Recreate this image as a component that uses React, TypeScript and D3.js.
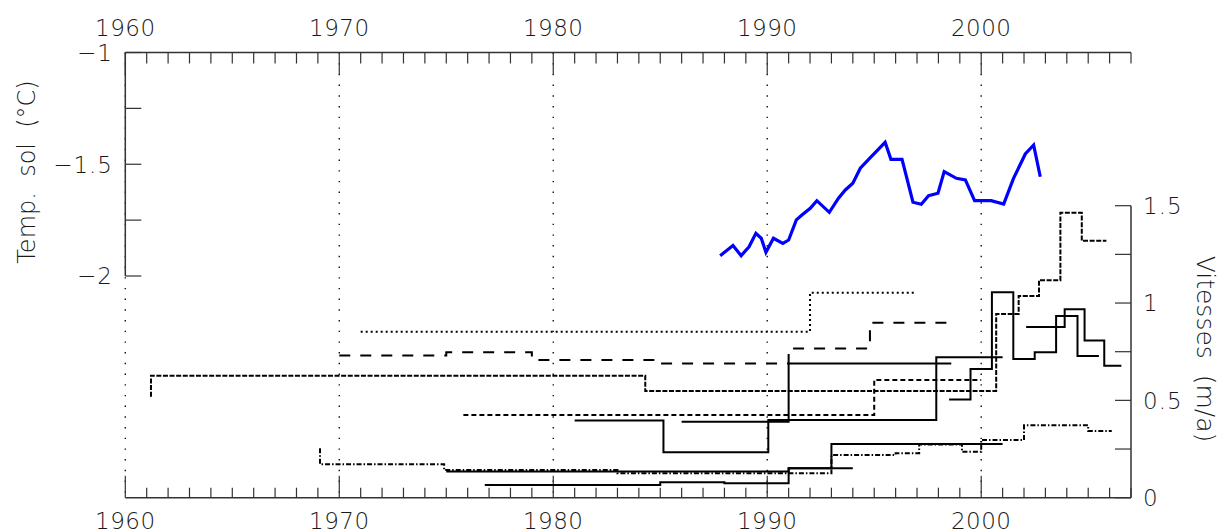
import React from "react";
import * as d3 from "d3";

// ---- Data ----
const tempYears = [1987.80, 1988.40, 1988.78, 1989.15, 1989.47, 1989.72, 1989.94, 1990.29, 1990.73, 1991.00, 1991.36, 1991.62, 1992.01, 1992.32, 1992.90, 1993.33, 1993.65, 1994.00, 1994.35, 1994.74, 1995.51, 1995.78, 1996.30, 1996.81, 1997.20, 1997.54, 1997.98, 1998.27, 1998.84, 1999.26, 1999.69, 2000.46, 2001.05, 2001.51, 2002.06, 2002.45, 2002.76];
const tempValues = [-1.909, -1.864, -1.909, -1.869, -1.809, -1.831, -1.894, -1.831, -1.854, -1.839, -1.749, -1.727, -1.697, -1.663, -1.715, -1.652, -1.615, -1.585, -1.518, -1.478, -1.402, -1.478, -1.478, -1.670, -1.679, -1.641, -1.630, -1.533, -1.563, -1.570, -1.663, -1.663, -1.678, -1.563, -1.454, -1.414, -1.556];

// step series: years has one more entry than values (last = end year)
const dottedYears = [1971.0, 1992.0, 1996.9];
const dottedValues = [0.853, 1.053];
const longDashYears = [1970.0, 1975.0, 1979.0, 1985.0, 1991.0, 1994.8, 1998.6];
const longDashValues = [0.731, 0.747, 0.707, 0.690, 0.767, 0.899];
const denseDashYears = [1961.2, 1961.2, 1984.3, 2000.7, 2001.75, 2002.7, 2003.7, 2004.7, 2005.85];
const denseDashValues = [0.519, 0.627, 0.548, 0.944, 1.036, 1.117, 1.464, 1.320];
const dashDotYears = [1969.1, 1969.1, 1974.9, 1983.0, 1993.0, 1996.0, 1997.1, 1999.1, 2000.0, 2002.0, 2005.0, 2006.1];
const dashDotValues = [0.254, 0.172, 0.142, 0.125, 0.219, 0.228, 0.273, 0.236, 0.297, 0.372, 0.343];
const shortDashYears = [1975.8, 1995.0, 2000.0];
const shortDashValues = [0.425, 0.605];
const solidEYears = [1976.8, 1985.0, 1988.0, 1991.0, 1993.0, 2001.0];
const solidEValues = [0.065, 0.079, 0.074, 0.151, 0.276];
const solidFYears = [1975.0, 1991.0, 1994.0];
const solidFValues = [0.134, 0.151];
const solidHYears = [1981.0, 1985.15, 1990.05, 1997.9, 2001.0];
const solidHValues = [0.396, 0.233, 0.399, 0.721];
const solidIYears = [1986.0, 1991.0, 1998.6];
const solidIValues = [0.390, 0.690];
const solidJYears = [1998.5, 1999.5, 2000.5, 2001.5, 2002.5, 2003.5, 2004.5, 2005.5];
const solidJValues = [0.505, 0.661, 1.055, 0.712, 0.747, 0.933, 0.728];
const solidKYears = [2002.1, 2003.9, 2004.83, 2005.75, 2006.55];
const solidKValues = [0.877, 0.968, 0.807, 0.678];

const xTickYears = [1960, 1970, 1980, 1990, 2000];
const leftTicks = [-1, -1.25, -1.5, -1.75, -2];
const leftLabels = [-1, -1.5, -2];
const rightTicks = [0, 0.25, 0.5, 0.75, 1, 1.25, 1.5];
const rightLabels = [0, 0.5, 1, 1.5];

const W = 1219, H = 530;
const x = d3.scaleLinear().domain([1960, 2007]).range([125.3, 1131]);
const yT = d3.scaleLinear().domain([-2, -1]).range([276, 52.5]);
const yV = d3.scaleLinear().domain([0, 1.5]).range([497.7, 205.7]);

const stepLine = d3.line<[number, number]>().x(d => x(d[0])).y(d => yV(d[1])).curve(d3.curveStepAfter);
const toPts = (ys: number[], vs: number[]): [number, number][] =>
  ys.map((yr, i) => [yr, vs[Math.min(i, vs.length - 1)]] as [number, number]);

const steps = [
  { ys: dottedYears, vs: dottedValues, dash: "2,3" },
  { ys: longDashYears, vs: longDashValues, dash: "11,10" },
  { ys: denseDashYears, vs: denseDashValues, dash: "5,1.6" },
  { ys: dashDotYears, vs: dashDotValues, dash: "5,2,1.5,2" },
  { ys: shortDashYears, vs: shortDashValues, dash: "5,3" },
  { ys: solidEYears, vs: solidEValues, dash: "none" },
  { ys: solidFYears, vs: solidFValues, dash: "none" },
  { ys: solidHYears, vs: solidHValues, dash: "none" },
  { ys: solidIYears, vs: solidIValues, dash: "none" },
  { ys: solidJYears, vs: solidJValues, dash: "none" },
  { ys: solidKYears, vs: solidKValues, dash: "none" },
];

const fmt = (v: number) => (v < 0 ? "\u2212" : "") + String(Math.abs(v));

export default function App() {
  const tempLine = d3.line<number>().x((_, i) => x(tempYears[i])).y(d => yT(d));
  const years = d3.range(1960, 2008);
  const axisColor = "#333";
  const textColor = "#1a1a1a";
  const font = "'DejaVu Sans', sans-serif";
  const top = yT(-1), bottom = yV(0), left = x(1960), right = x(2007);
  return (
    <svg width={W} height={H} style={{ position: "absolute", left: 0, top: 0, background: "#fff" }}
      fontFamily={font}>
      {/* dotted gridlines */}
      {xTickYears.map(yr => (
        <line key={"g" + yr} x1={x(yr)} x2={x(yr)} y1={top} y2={bottom}
          stroke="#111" strokeWidth={1.4} strokeDasharray="1.4,9.3" />
      ))}
      {/* top axis */}
      <line x1={left} x2={right} y1={top} y2={top} stroke={axisColor} strokeWidth={1.5} />
      {years.map(yr => (
        <line key={"tt" + yr} x1={x(yr)} x2={x(yr)} y1={top} y2={top + (yr % 10 === 0 ? 22 : 11)}
          stroke={axisColor} strokeWidth={1.2} />
      ))}
      {/* bottom axis */}
      <line x1={left} x2={right} y1={bottom} y2={bottom} stroke={axisColor} strokeWidth={1.5} />
      {years.map(yr => (
        <line key={"bt" + yr} x1={x(yr)} x2={x(yr)} y1={bottom} y2={bottom - (yr % 10 === 0 ? 22 : 10)}
          stroke={axisColor} strokeWidth={1.2} />
      ))}
      {xTickYears.map(yr => (
        <g key={"xl" + yr}>
          <text x={x(yr)} y={35.7} textAnchor="middle" fontSize={23} fill={textColor} fontWeight={200} letterSpacing={0.5}>{yr}</text>
          <text x={x(yr)} y={529.4} textAnchor="middle" fontSize={23} fill={textColor} fontWeight={200} letterSpacing={0.5}>{yr}</text>
        </g>
      ))}
      {/* left axis */}
      <line x1={left} x2={left} y1={top} y2={yT(-2)} stroke={axisColor} strokeWidth={1.5} />
      {leftTicks.map(t => (
        <line key={"lt" + t} x1={left} x2={left + 16} y1={yT(t)} y2={yT(t)} stroke={axisColor} strokeWidth={1.2} />
      ))}
      {leftLabels.map(t => (
        <text key={"ll" + t} x={113} y={yT(t)} dy="0.36em" textAnchor="end" fontSize={23} fill={textColor}
          fontWeight={200} letterSpacing={1}>{fmt(t)}</text>
      ))}
      <text transform={`translate(35,${172}) rotate(-90)`} textAnchor="middle" fontSize={24} fill={textColor}
        fontWeight={200} style={{ whiteSpace: "pre" }}>{"Temp.  sol  (°C)"}</text>
      {/* right axis */}
      <line x1={right} x2={right} y1={yV(1.5)} y2={bottom} stroke={axisColor} strokeWidth={1.5} />
      {rightTicks.map(t => (
        <line key={"rt" + t} x1={right} x2={right - 16} y1={yV(t)} y2={yV(t)} stroke={axisColor} strokeWidth={1.2} />
      ))}
      {rightLabels.map(t => (
        <text key={"rl" + t} x={1143} y={yV(t)} dy="0.36em" textAnchor="start" fontSize={23} fill={textColor}
          fontWeight={200} letterSpacing={1}>{String(t)}</text>
      ))}
      <text transform={`translate(1197,${349}) rotate(90)`} textAnchor="middle" fontSize={25} fill={textColor}
        fontWeight={200} style={{ whiteSpace: "pre" }}>{"Vitesses  (m/a)"}</text>
      {/* step series */}
      {steps.map((s, i) => (
        <path key={"s" + i} d={stepLine(toPts(s.ys, s.vs)) || ""} fill="none" stroke="#000"
          strokeWidth={2} strokeDasharray={s.dash} />
      ))}
      {/* temperature */}
      <path d={tempLine(tempValues) || ""} fill="none" stroke="#0000ff" strokeWidth={3.2} strokeLinejoin="miter" />
    </svg>
  );
}
